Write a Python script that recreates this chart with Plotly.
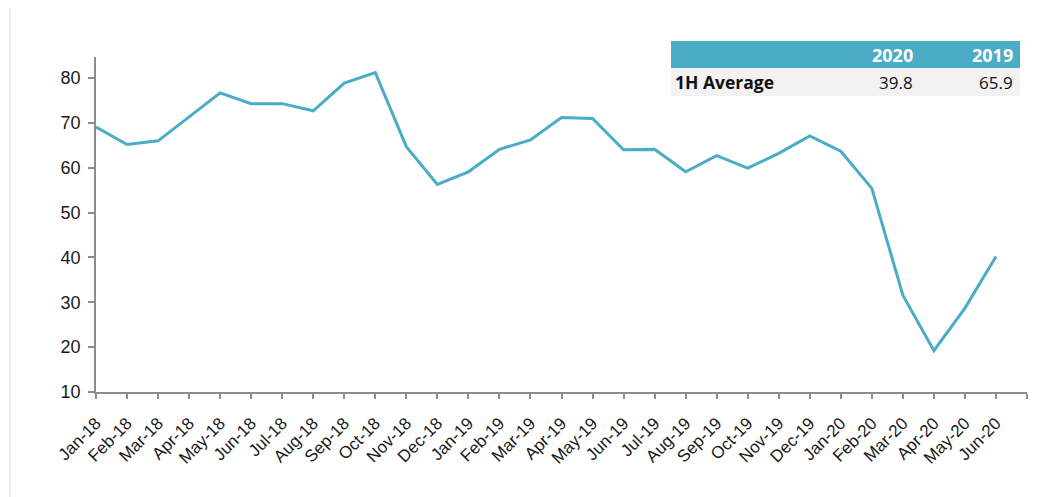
import plotly.graph_objects as go

months = ["Jan-18", "Feb-18", "Mar-18", "Apr-18", "May-18", "Jun-18", "Jul-18", "Aug-18",
          "Sep-18", "Oct-18", "Nov-18", "Dec-18", "Jan-19", "Feb-19", "Mar-19", "Apr-19",
          "May-19", "Jun-19", "Jul-19", "Aug-19", "Sep-19", "Oct-19", "Nov-19", "Dec-19",
          "Jan-20", "Feb-20", "Mar-20", "Apr-20", "May-20", "Jun-20"]
values = [69.1, 65.2, 66.0, 71.4, 76.7, 74.3, 74.3, 72.7, 78.9, 81.2, 64.7, 56.3,
          59.1, 64.1, 66.2, 71.2, 71.0, 64.0, 64.1, 59.1, 62.7, 59.9, 63.2, 67.1,
          63.7, 55.4, 31.6, 19.2, 28.7, 40.2]

table_header = ["", "2020", "2019"]
table_row_label = "1H Average"
table_row_values = ["39.8", "65.9"]

y_ticks = [10, 20, 30, 40, 50, 60, 70, 80]

LINE = "#4BACC6"
AXIS = "#8c8c8c"

# page offset (body margin) and plot area in screen pixels
OFF = 8
L, R, T, B = 96, 1027, 57, 392
W, H = 1058 - OFF, 497 - OFF


def px(x):
    return (x - L) / (R - L)


def py(y):
    return (B - y) / (B - T)


xs = list(range(len(months)))

fig = go.Figure()
fig.add_trace(go.Scatter(
    x=xs, y=values, mode="lines",
    line=dict(color=LINE, width=3),
    hoverinfo="skip", showlegend=False,
))

shapes = []
# chart left border
shapes.append(dict(type="line", xref="paper", yref="paper",
                   x0=px(10), x1=px(10), y0=py(9), y1=py(497),
                   line=dict(color="#d9d9d9", width=1)))
# table header + row
shapes.append(dict(type="rect", xref="paper", yref="paper",
                   x0=px(671), x1=px(1020), y0=py(41), y1=py(68),
                   fillcolor=LINE, line=dict(width=0), layer="above"))
shapes.append(dict(type="rect", xref="paper", yref="paper",
                   x0=px(671), x1=px(1020), y0=py(68), y1=py(96),
                   fillcolor="#f2f2f2", line=dict(width=0), layer="above"))

annotations = []
TFONT = "Open Sans"
col_right = [None, 915, 1015]
for i in (1, 2):
    annotations.append(dict(xref="paper", yref="paper", x=px(col_right[i]), y=py(55),
                            text="<b>%s</b>" % table_header[i], showarrow=False,
                            xanchor="right", yanchor="middle",
                            font=dict(family=TFONT, size=18, color="white")))
    annotations.append(dict(xref="paper", yref="paper", x=px(col_right[i]), y=py(82),
                            text=table_row_values[i - 1], showarrow=False,
                            xanchor="right", yanchor="middle",
                            font=dict(family=TFONT, size=17, color="#111111")))
annotations.append(dict(xref="paper", yref="paper", x=px(673), y=py(82),
                        text="<b>%s</b>" % table_row_label, showarrow=False,
                        xanchor="left", yanchor="middle",
                        font=dict(family=TFONT, size=17.5, color="#111111")))

TICKFONT = "Liberation Sans"
fig.update_layout(
    width=W, height=H,
    margin=dict(l=L - OFF, r=1058 - R, t=T - OFF, b=497 - B, autoexpand=False),
    paper_bgcolor="white", plot_bgcolor="white",
    font=dict(family=TICKFONT, size=15, color="#222222"),
    shapes=shapes, annotations=annotations,
    xaxis=dict(
        range=[0, len(months)],
        tickvals=list(range(len(months) + 1)),
        ticktext=months + [""],
        tickangle=-45,
        automargin=False,
        showgrid=False, zeroline=False,
        showline=True, linecolor=AXIS, linewidth=1.5,
        ticks="outside", ticklen=5, tickcolor=AXIS, tickwidth=1.5,
        ticklabelstandoff=8,
        tickfont=dict(family=TICKFONT, size=17, color="#1a1a1a"),
    ),
    yaxis=dict(
        range=[10, 84.7],
        tickvals=y_ticks,
        automargin=False,
        showgrid=False, zeroline=False,
        showline=True, linecolor=AXIS, linewidth=1.5,
        ticks="outside", ticklen=6, tickcolor=AXIS, tickwidth=1.5,
        ticklabelstandoff=4,
        tickfont=dict(family=TICKFONT, size=18, color="#1a1a1a"),
    ),
)

fig.write_html("out.html")
